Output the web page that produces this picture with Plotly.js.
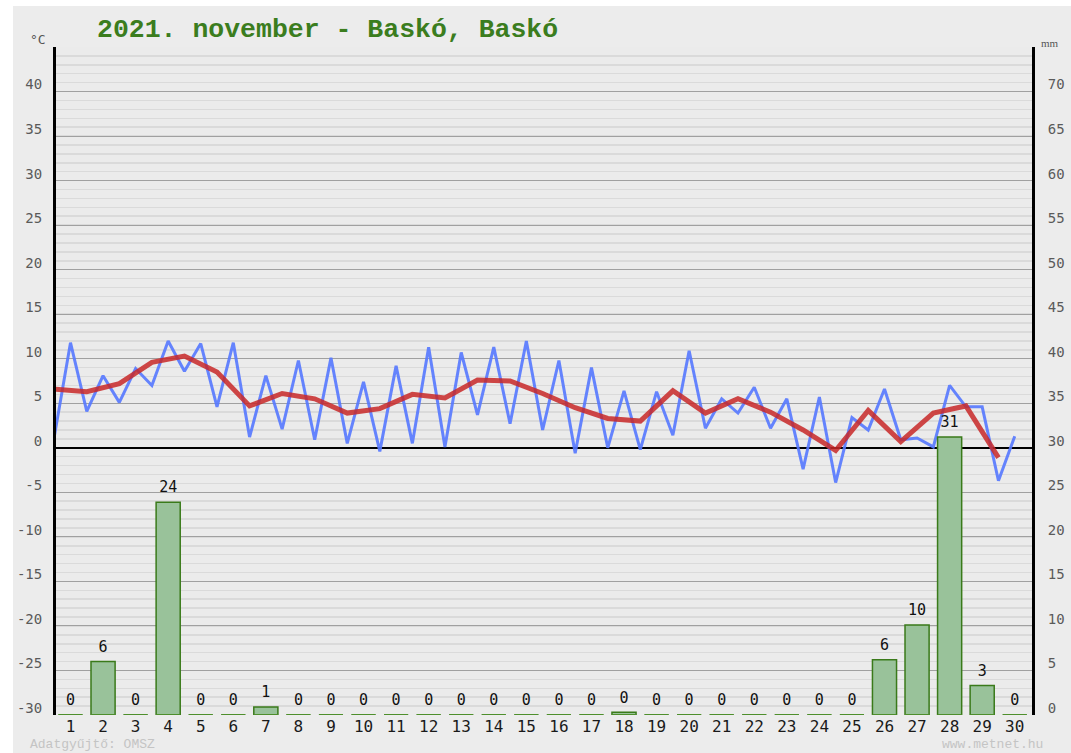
<!DOCTYPE html>
<html>
<head>
<meta charset="utf-8">
<script src="https://cdn.plot.ly/plotly-3.0.1.min.js"></script>
<style>
html,body{margin:0;padding:0;background:#ffffff;}
#chart{position:absolute;left:13px;top:6px;width:1058px;height:747px;}
</style>
</head>
<body>
<div id="chart"></div>
<script>
// ---- data ----
const days = [1,2,3,4,5,6,7,8,9,10,11,12,13,14,15,16,17,18,19,20,21,22,23,24,25,26,27,28,29,30];
// daily minimum temperature (°C), plotted half a day before the day mark
const tMin = [1.2,4.1,5.1,7.0,8.6,4.6,1.2,2.1,0.9,0.5,-0.4,0.5,0.1,3.7,2.7,2.0,-0.6,0.0,-0.2,1.4,2.2,3.9,2.2,-2.4,-3.9,2.0,0.9,0.1,4.6,-3.7];
// daily maximum temperature (°C)
const tMax = [11.8,8.1,8.9,12.0,11.7,11.8,8.1,9.8,10.1,7.4,9.2,11.3,10.7,11.3,12.0,9.8,9.0,6.4,6.3,10.9,5.5,6.8,5.5,5.7,3.4,6.6,1.1,7.0,4.6,1.3];
// daily mean temperature (°C)
const tMean = [6.6,6.3,7.2,9.6,10.3,8.5,4.7,6.1,5.5,3.9,4.4,6.0,5.6,7.6,7.5,6.1,4.5,3.3,3.0,6.4,3.9,5.5,4.0,2.0,-0.3,4.2,0.7,3.9,4.7,-1.1];
// daily precipitation (mm)
const precip = [0,6.0,0,23.9,0,0,0.9,0,0,0,0,0,0,0,0,0,0,0.3,0,0,0,0,0,0,0,6.2,10.1,31.2,3.3,0];
// axis ticks
const tempTicks = [-30,-25,-20,-15,-10,-5,0,5,10,15,20,25,30,35,40];
const mmTicks = [0,5,10,15,20,25,30,35,40,45,50,55,60,65,70];
const titleText = "2021. november - Baskó, Baskó";

// ---- derived traces ----
const blueX = [], blueY = [];
days.forEach((d,i)=>{ blueX.push(d-0.5); blueY.push(tMin[i]); blueX.push(d); blueY.push(tMax[i]); });
const meanX = days.map(d=>d-0.5);

const BW = 0.74;
const baseX = [], baseY = [];
days.forEach(d=>{ baseX.push(d-BW/2, d+BW/2, null); baseY.push(0,0,null); });

const monoFont = '"DejaVu Sans Mono", "Liberation Mono", monospace';

const traces = [
  { // zero-precip base segments
    x: baseX, y: baseY, yaxis:'y2', type:'scatter', mode:'lines',
    line:{color:'#4e8f2c', width:2}, hoverinfo:'skip', showlegend:false
  },
  {
    x: days, y: precip, yaxis:'y2', type:'bar', width: BW,
    marker:{color:'#99c29a', line:{color:'#3a7a1a', width:1.5}},
    hoverinfo:'skip', showlegend:false
  },
  {
    x: days, y: precip, yaxis:'y2', type:'scatter', mode:'markers+text',
    marker:{size:8, opacity:0},
    text: precip.map(v=>String(Math.round(v))), textposition:'top center',
    textfont:{family:monoFont, size:15, color:'#111111'},
    cliponaxis:false, hoverinfo:'skip', showlegend:false
  },
  {
    x: blueX, y: blueY, type:'scatter', mode:'lines',
    line:{color:'rgba(85,120,255,0.9)', width:3}, hoverinfo:'skip', showlegend:false
  },
  {
    x: meanX, y: tMean, type:'scatter', mode:'lines',
    line:{color:'rgba(200,40,40,0.85)', width:5}, hoverinfo:'skip', showlegend:false
  }
];

const layout = {
  width:1058, height:747,
  margin:{l:43, r:39, t:41, b:38, pad:0},
  paper_bgcolor:'#ececec', plot_bgcolor:'#ebebeb',
  showlegend:false,
  bargap:0,
  title:{text:titleText, xref:'container', yref:'container', x:84/1058, xanchor:'left', y:1-22/747, yanchor:'middle',
         font:{family:'"Liberation Mono", "Courier New", monospace', size:26.5, color:'#3b7d1e', weight:'bold'}},
  xaxis:{
    range:[0.555, 30.53], tickvals:days, ticktext:days.map(String),
    showgrid:false, zeroline:false, showline:false, ticks:'',
    tickfont:{family:monoFont, size:16, color:'#1a1a1a'}, fixedrange:true
  },
  yaxis:{
    range:[-30,45], tickvals:tempTicks, ticktext:tempTicks.map(String),
    showgrid:true, gridcolor:'#a0a0a0', gridwidth:1,
    minor:{dtick:1, tick0:0, showgrid:true, gridcolor:'#dadada', gridwidth:1.5, ticks:''},
    zeroline:true, zerolinecolor:'#000000', zerolinewidth:2,
    showline:true, linecolor:'#000000', linewidth:3, ticks:'',
    ticklabelstandoff:8, ticklabelshift:-7,
    tickfont:{family:monoFont, size:14, color:'#5a5a5a'}, fixedrange:true
  },
  yaxis2:{
    range:[0,75], overlaying:'y', side:'right', tickvals:mmTicks, ticktext:mmTicks.map(String),
    showgrid:false, zeroline:false, showline:true, linecolor:'#000000', linewidth:3, ticks:'',
    ticklabelstandoff:10, ticklabelshift:-7,
    tickfont:{family:monoFont, size:14, color:'#5a5a5a'}, fixedrange:true
  },
  annotations:[
    {text:'°C', xref:'paper', yref:'paper', x:(25-43)/976, y:(709-34)/668, xanchor:'center', yanchor:'middle', showarrow:false,
     font:{family:monoFont, size:13, color:'#555555'}},
    {text:'mm', xref:'paper', yref:'paper', x:(1037-43)/976, y:(709-37)/668, xanchor:'center', yanchor:'middle', showarrow:false,
     font:{family:'"Liberation Serif", serif', size:11, color:'#555555'}},
    {text:'Adatgyűjtő: OMSZ', xref:'paper', yref:'paper', x:(16-43)/976, y:(709-738)/668, xanchor:'left', yanchor:'middle', showarrow:false,
     borderpad:0, font:{family:'"Liberation Mono", monospace', size:13, color:'#c4c4c4'}},
    {text:'www.metnet.hu', xref:'paper', yref:'paper', x:(1031-43)/976, y:(709-738)/668, xanchor:'right', yanchor:'middle', showarrow:false,
     borderpad:0, font:{family:'"Liberation Mono", monospace', size:13, color:'#c4c4c4'}}
  ]
};

Plotly.newPlot('chart', traces, layout, {staticPlot:true, displayModeBar:false});
</script>
</body>
</html>
